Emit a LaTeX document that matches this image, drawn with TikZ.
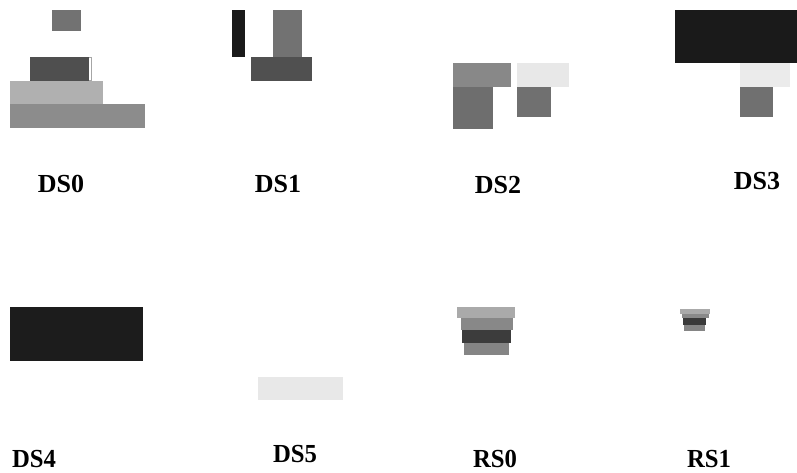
\documentclass[tikz,border=0pt]{standalone}
\usepackage{fontspec}
\setmainfont{Liberation Serif}
\begin{document}
\begin{tikzpicture}[x=1pt,y=-1pt,
  lbl/.style={font=\fontsize{26}{28}\selectfont\bfseries, inner sep=0pt, anchor=center},
  lblc/.style={lbl, xscale=0.95}]
\useasboundingbox (0,0) rectangle (797,472);
\fill[white] (0,0) rectangle (797,472);
% DS0
\fill[fill={rgb,255:red,114;green,114;blue,114}] (52,10) rectangle (81,31);
\fill[fill={rgb,255:red,79;green,79;blue,79}] (30,57) rectangle (89,81);
\draw[gray!70,line width=0.7pt] (89,57.5) -- (91.5,57.5) -- (91.5,80.5) -- (89,80.5);
\fill[fill={rgb,255:red,176;green,176;blue,176}] (10,81) rectangle (103,104);
\fill[fill={rgb,255:red,140;green,140;blue,140}] (10,104) rectangle (145,128);
% DS1
\fill[fill={rgb,255:red,26;green,26;blue,26}] (232,10) rectangle (245,57);
\fill[fill={rgb,255:red,114;green,114;blue,114}] (273,10) rectangle (302,57);
\fill[fill={rgb,255:red,80;green,80;blue,80}] (251,57) rectangle (312,81);
% DS2
\fill[fill={rgb,255:red,136;green,136;blue,136}] (453,63) rectangle (511,87);
\fill[fill={rgb,255:red,110;green,110;blue,110}] (453,87) rectangle (493,129);
\fill[fill={rgb,255:red,232;green,232;blue,232}] (517,63) rectangle (569,87);
\fill[fill={rgb,255:red,112;green,112;blue,112}] (517,87) rectangle (551,117);
% DS3
\fill[fill={rgb,255:red,26;green,26;blue,26}] (675,10) rectangle (797,63);
\fill[fill={rgb,255:red,235;green,235;blue,235}] (740,63) rectangle (790,87);
\fill[fill={rgb,255:red,112;green,112;blue,112}] (740,87) rectangle (773,117);
% DS4
\fill[fill={rgb,255:red,28;green,28;blue,28}] (10,307) rectangle (143,361);
% DS5
\fill[fill={rgb,255:red,232;green,232;blue,232}] (258,377) rectangle (343,400);
% RS0
\fill[fill={rgb,255:red,170;green,170;blue,170}] (457,307) rectangle (515,318);
\fill[fill={rgb,255:red,136;green,136;blue,136}] (461,318) rectangle (513,330);
\fill[fill={rgb,255:red,60;green,60;blue,60}] (462,330) rectangle (511,343);
\fill[fill={rgb,255:red,133;green,133;blue,133}] (464,343) rectangle (509,355);
% RS1
\fill[fill={rgb,255:red,170;green,170;blue,170}] (680,309) rectangle (710,314);
\fill[fill={rgb,255:red,138;green,138;blue,138}] (682,314) rectangle (709,318);
\fill[fill={rgb,255:red,58;green,58;blue,58}] (683,318) rectangle (706,325);
\fill[fill={rgb,255:red,133;green,133;blue,133}] (684,325) rectangle (705,331);
% labels
\node[lbl] (l0) at (61,184) {DS0};
\node[lbl] (l1) at (278,184) {DS1};
\node[lbl] (l2) at (498,185) {DS2};
\node[lbl] (l3) at (757,181) {DS3};
\node[lblc] (l4) at (34,459) {DS4};
\node[lblc] (l5) at (295,454) {DS5};
\node[lblc] (l6) at (495,459) {RS0};
\node[lblc] (l7) at (709,459) {RS1};
\end{tikzpicture}
\end{document}
